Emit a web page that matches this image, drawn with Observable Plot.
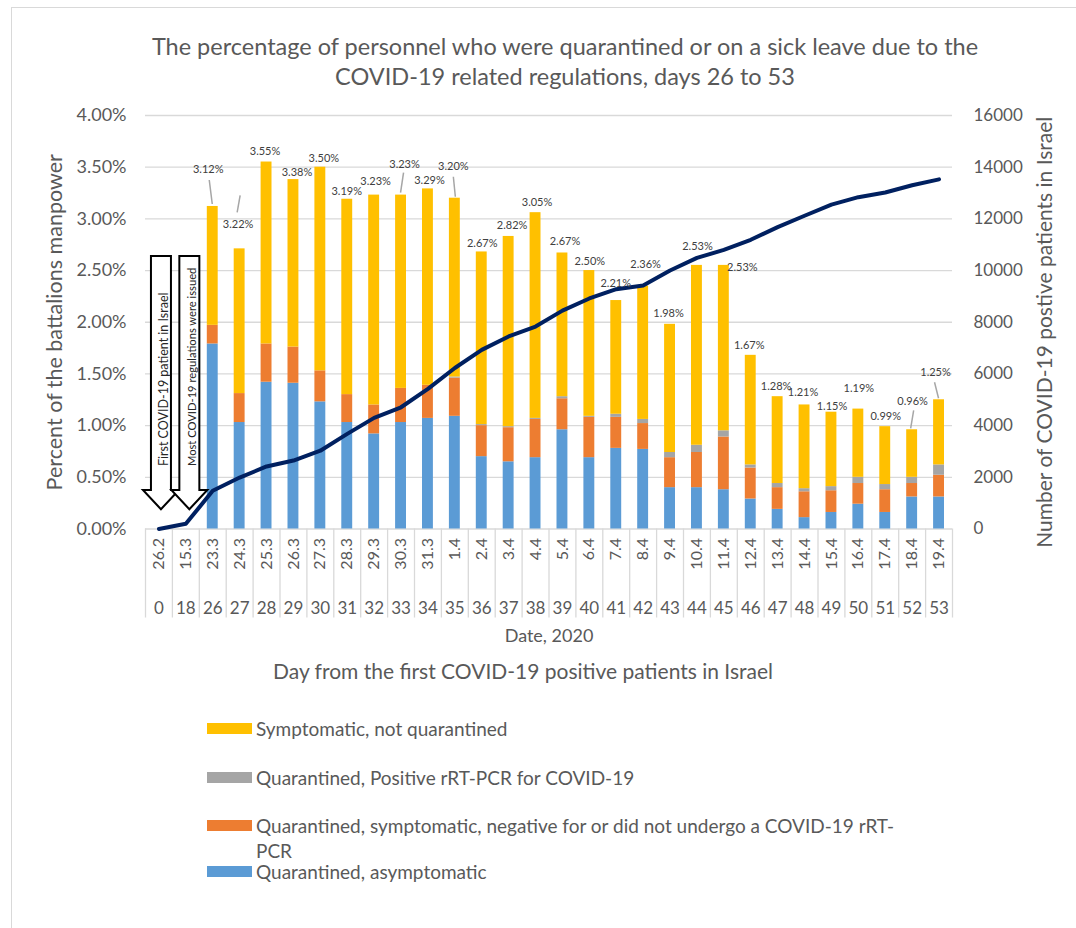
<!DOCTYPE html>
<html>
<head>
<meta charset="utf-8">
<script src="https://cdn.jsdelivr.net/npm/d3@7"></script>
<script src="https://cdn.jsdelivr.net/npm/@observablehq/plot@0.6"></script>
<style>
  html, body { margin: 0; padding: 0; background: #fff; }
  body { width: 1076px; height: 928px; position: relative; overflow: hidden; font-family: Lato, "Open Sans", sans-serif; color: #595959; }
  #frame { position: absolute; left: 11px; top: 7px; width: 1100px; height: 1000px; border: 1px solid #d9d9d9; box-sizing: border-box; }
  #title { position: absolute; left: 0; top: 31px; width: 1130px; text-align: center; font-size: 23.5px; line-height: 30px; color: #595959; }
  #chart { position: absolute; left: 0; top: 100px; }
  .lg { position: absolute; left: 207px; font-size: 19px; color: #595959; }
  .lg .sw { position: absolute; left: 0; width: 45px; height: 11px; }
  .lg .tx { position: absolute; left: 49px; white-space: nowrap; line-height: 25px; }
</style>
</head>
<body>
<div id="frame"></div>
<div id="title">The percentage of personnel who were quarantined or on a sick leave due to the<br>COVID-19 related regulations, days 26 to 53</div>
<div id="chart"></div>
<div id="legend"></div>
<script>
// ---------- data ----------
const days = [0, 18, 26, 27, 28, 29, 30, 31, 32, 33, 34, 35, 36, 37, 38, 39, 40, 41, 42, 43, 44, 45, 46, 47, 48, 49, 50, 51, 52, 53];
const dates = ["26.2", "15.3", "23.3", "24.3", "25.3", "26.3", "27.3", "28.3", "29.3", "30.3", "31.3", "1.4", "2.4", "3.4", "4.4", "5.4", "6.4", "7.4", "8.4", "9.4", "10.4", "11.4", "12.4", "13.4", "14.4", "15.4", "16.4", "17.4", "18.4", "19.4"];
const positivePatients = [1, 200, 1480, 1990, 2420, 2650, 3030, 3680, 4300, 4710, 5420, 6230, 6930, 7450, 7835, 8450, 8920, 9280, 9420, 10000, 10490, 10800, 11190, 11680, 12120, 12550, 12840, 13020, 13300, 13530];

const barDays = [26, 27, 28, 29, 30, 31, 32, 33, 34, 35, 36, 37, 38, 39, 40, 41, 42, 43, 44, 45, 46, 47, 48, 49, 50, 51, 52, 53];
const quarantinedAsymptomatic = [1.79, 1.03, 1.42, 1.41, 1.23, 1.03, 0.92, 1.03, 1.07, 1.09, 0.70, 0.65, 0.69, 0.96, 0.69, 0.78, 0.77, 0.40, 0.40, 0.38, 0.29, 0.19, 0.11, 0.16, 0.24, 0.16, 0.31, 0.31];
const quarantinedSymptomaticNeg = [0.18, 0.28, 0.37, 0.35, 0.30, 0.27, 0.28, 0.33, 0.32, 0.37, 0.30, 0.33, 0.37, 0.30, 0.39, 0.30, 0.25, 0.29, 0.34, 0.51, 0.30, 0.21, 0.25, 0.21, 0.20, 0.22, 0.13, 0.21];
const quarantinedPositive = [0, 0, 0, 0, 0, 0, 0, 0, 0, 0.01, 0.01, 0.01, 0.01, 0.02, 0.01, 0.03, 0.04, 0.05, 0.07, 0.06, 0.03, 0.04, 0.03, 0.04, 0.06, 0.05, 0.06, 0.10];
const symptomaticNotQuarantined = [1.15, 1.40, 1.76, 1.62, 1.97, 1.89, 2.03, 1.87, 1.90, 1.73, 1.67, 1.84, 1.99, 1.39, 1.41, 1.10, 1.29, 1.24, 1.74, 1.60, 1.06, 0.84, 0.81, 0.72, 0.66, 0.56, 0.46, 0.63];
const totalLabels = ["3.12%", "3.22%", "3.55%", "3.38%", "3.50%", "3.19%", "3.23%", "3.23%", "3.29%", "3.20%", "2.67%", "2.82%", "3.05%", "2.67%", "2.50%", "2.21%", "2.36%", "1.98%", "2.53%", "2.53%", "1.67%", "1.28%", "1.21%", "1.15%", "1.19%", "0.99%", "0.96%", "1.25%"];

const seriesNames = ["Quarantined, asymptomatic", "Quarantined, symptomatic, negative for or did not undergo a COVID-19 rRT-PCR", "Quarantined, Positive rRT-PCR for COVID-19", "Symptomatic, not quarantined"];
const seriesColors = ["#5B9BD5", "#ED7D31", "#A5A5A5", "#FFC000"];
const yTicks = [0, 0.5, 1, 1.5, 2, 2.5, 3, 3.5, 4];

// annotation layout (pixel nudges of data labels relative to bar top)
const labelNudge = [[-4, -37], [-1, -24], [-1, -10], [4, -7], [4, -9], [0, -8], [2, -13], [4, -30], [2, -8], [-1, -32], [1, -8], [4, -11], [2, -10], [3, -11], [1, -9], [0, -17], [3, -21], [-1, -11], [1, -19], [19, 2], [-1, -10], [-1, -10], [-1, -12], [1, -6], [1, -20], [1, -10], [1, -28], [-3, -27]];
const leaderLines = [
  {day: 26, from: [-3, -26], to: [0, -2]},
  {day: 27, from: [1, -53], to: [-2, -36]},
  {day: 33, from: [3, -22], to: [0, -2]},
  {day: 35, from: [-1, -21], to: [1, -1]},
  {day: 52, from: [2, -19], to: [-1, -1]},
  {day: 53, from: [-4, -17], to: [0, -1]}
];
const arrowNotes = [
  {day: 0, text: "First COVID-19 patient in Israel", shift: 2.5, size: 12.5},
  {day: 18, text: "Most COVID-19 regulations were issued", shift: 4, size: 11.2}
];

// ---------- derived ----------
const seriesArrays = [quarantinedAsymptomatic, quarantinedSymptomaticNeg, quarantinedPositive, symptomaticNotQuarantined];
const stacked = [];
barDays.forEach((d, i) => seriesArrays.forEach((arr, s) => stacked.push({day: d, series: seriesNames[s], value: arr[i]})));
const totals = barDays.map((d, i) => seriesArrays.reduce((a, arr) => a + arr[i], 0));
const lineData = days.map((d, i) => ({day: d, cases: positivePatients[i]}));
const casesToPct = c => c * 4 / 16000;

const W = 1076, H = 595, mT = 15, mB = 166.5, mL = 145, mR = 124;
const bw = (W - mL - mR) / days.length;

function arrowsMark(index, scales) {
  const x = scales.x, y = scales.y;
  const b = x.bandwidth ? x.bandwidth() : bw;
  const g = d3.create("svg:g");
  arrowNotes.forEach(a => {
    const cx = x(a.day) + b / 2 + a.shift;
    const top = y(2.635), headStart = y(0.372), tip = y(0.186);
    const sw = 10, hw = 18;
    const pts = [[cx - sw, top], [cx + sw, top], [cx + sw, headStart], [cx + hw, headStart], [cx, tip], [cx - hw, headStart], [cx - sw, headStart]];
    g.append("path").attr("d", "M" + pts.map(p => p.join(",")).join("L") + "Z")
      .attr("fill", "white").attr("stroke", "#000").attr("stroke-width", 2).attr("stroke-linejoin", "miter");
    g.append("text").attr("transform", `translate(${cx + 7},${y(0.604)}) rotate(-90)`)
      .attr("font-size", a.size).attr("fill", "#262626").attr("text-anchor", "start").text(a.text);
  });
  return g.node();
}

function labelsMark(index, scales) {
  const x = scales.x, y = scales.y;
  const b = x.bandwidth ? x.bandwidth() : bw;
  const g = d3.create("svg:g");
  leaderLines.forEach(l => {
    const i = barDays.indexOf(l.day);
    const cx = x(l.day) + b / 2, ty = y(totals[i]);
    g.append("line").attr("x1", cx + l.from[0]).attr("y1", ty + l.from[1]).attr("x2", cx + l.to[0]).attr("y2", ty + l.to[1])
      .attr("stroke", "#a6a6a6").attr("stroke-width", 1.5);
  });
  barDays.forEach((d, i) => {
    const cx = x(d) + b / 2 + labelNudge[i][0];
    const cy = y(totals[i]) + labelNudge[i][1];
    g.append("text").attr("x", cx).attr("y", cy).attr("dy", "0.35em").attr("text-anchor", "middle")
      .attr("font-size", 11).attr("fill", "#404040").text(totalLabels[i]);
  });
  return g.node();
}

const chart = Plot.plot({
  width: W, height: H,
  marginTop: mT, marginBottom: mB, marginLeft: mL, marginRight: mR,
  style: {fontFamily: "Lato, 'Open Sans', sans-serif", fontSize: "17px", color: "#595959", background: "transparent", overflow: "visible"},
  x: {type: "band", domain: days, padding: 0, round: false, axis: null},
  y: {domain: [0, 4], axis: null},
  color: {domain: seriesNames, range: seriesColors},
  marks: [
    Plot.ruleY(yTicks, {stroke: "#d9d9d9", strokeWidth: 1.3}),
    Plot.barY(stacked, {x: "day", y: "value", fill: "series", order: seriesNames, insetLeft: 8, insetRight: 8}),
    Plot.ruleX(days, {x: d => d, dx: -bw / 2, y1: 0, y2: 0, insetBottom: -89, stroke: "#d9d9d9", strokeWidth: 1.3}),
    Plot.ruleX([days[days.length - 1]], {x: d => d, dx: bw / 2, y1: 0, y2: 0, insetBottom: -89, stroke: "#d9d9d9", strokeWidth: 1.3}),
    Plot.text(days, {x: d => d, text: (d, i) => dates[i], frameAnchor: "bottom", rotate: -90, textAnchor: "end", lineAnchor: "middle", dy: 9, fontSize: 16, fill: "#595959"}),
    Plot.text(days, {x: d => d, text: d => String(d), frameAnchor: "bottom", lineAnchor: "middle", dy: 80, fontSize: 17, fill: "#595959"}),
    Plot.axisY({anchor: "left", ticks: yTicks, tickFormat: d => d.toFixed(2) + "%", tickSize: 0, tickPadding: 19, label: null, fontSize: 18}),
    Plot.axisY({anchor: "right", ticks: yTicks, tickFormat: d => String(Math.round(d * 4000)), tickSize: 0, tickPadding: 21, label: null, fontSize: 17}),
    arrowsMark,
    Plot.line(lineData, {x: "day", y: d => casesToPct(d.cases), stroke: "#002060", strokeWidth: 4, strokeLinejoin: "round", strokeLinecap: "round"}),
    labelsMark,
    Plot.text(["Percent of the battalions manpower"], {text: d => d, frameAnchor: "left", textAnchor: "middle", lineAnchor: "middle", dx: -90, rotate: -90, fontSize: 21.5, fill: "#595959"}),
    Plot.text(["Number of COVID-19 postive patients in Israel"], {text: d => d, frameAnchor: "right", textAnchor: "middle", lineAnchor: "middle", dx: 93, dy: 10, rotate: -90, fontSize: 21, fill: "#595959"}),
    Plot.text(["Date, 2020"], {text: d => d, frameAnchor: "bottom", lineAnchor: "middle", dy: 107.5, fontSize: 18, fill: "#595959"}),
    Plot.text(["Day from the first COVID-19 positive patients in Israel"], {text: d => d, frameAnchor: "bottom", lineAnchor: "middle", dx: -26, dy: 143.5, fontSize: 21, fill: "#595959"})
  ]
});
document.getElementById("chart").appendChild(chart);

// ---------- legend ----------
const legendItems = [
  {s: 3, y: 728, text: seriesNames[3]},
  {s: 2, y: 777, text: seriesNames[2]},
  {s: 1, y: 825, text: "Quarantined, symptomatic, negative for or did not undergo a COVID-19 rRT-<br>PCR"},
  {s: 0, y: 871, text: seriesNames[0]}
];
const legend = document.getElementById("legend");
legendItems.forEach(it => {
  const div = document.createElement("div");
  div.className = "lg";
  div.style.top = (it.y - 12.5) + "px";
  div.innerHTML = `<div class="sw" style="top:7px;background:${seriesColors[it.s]}"></div><div class="tx">${it.text}</div>`;
  legend.appendChild(div);
});
</script>
</body>
</html>
